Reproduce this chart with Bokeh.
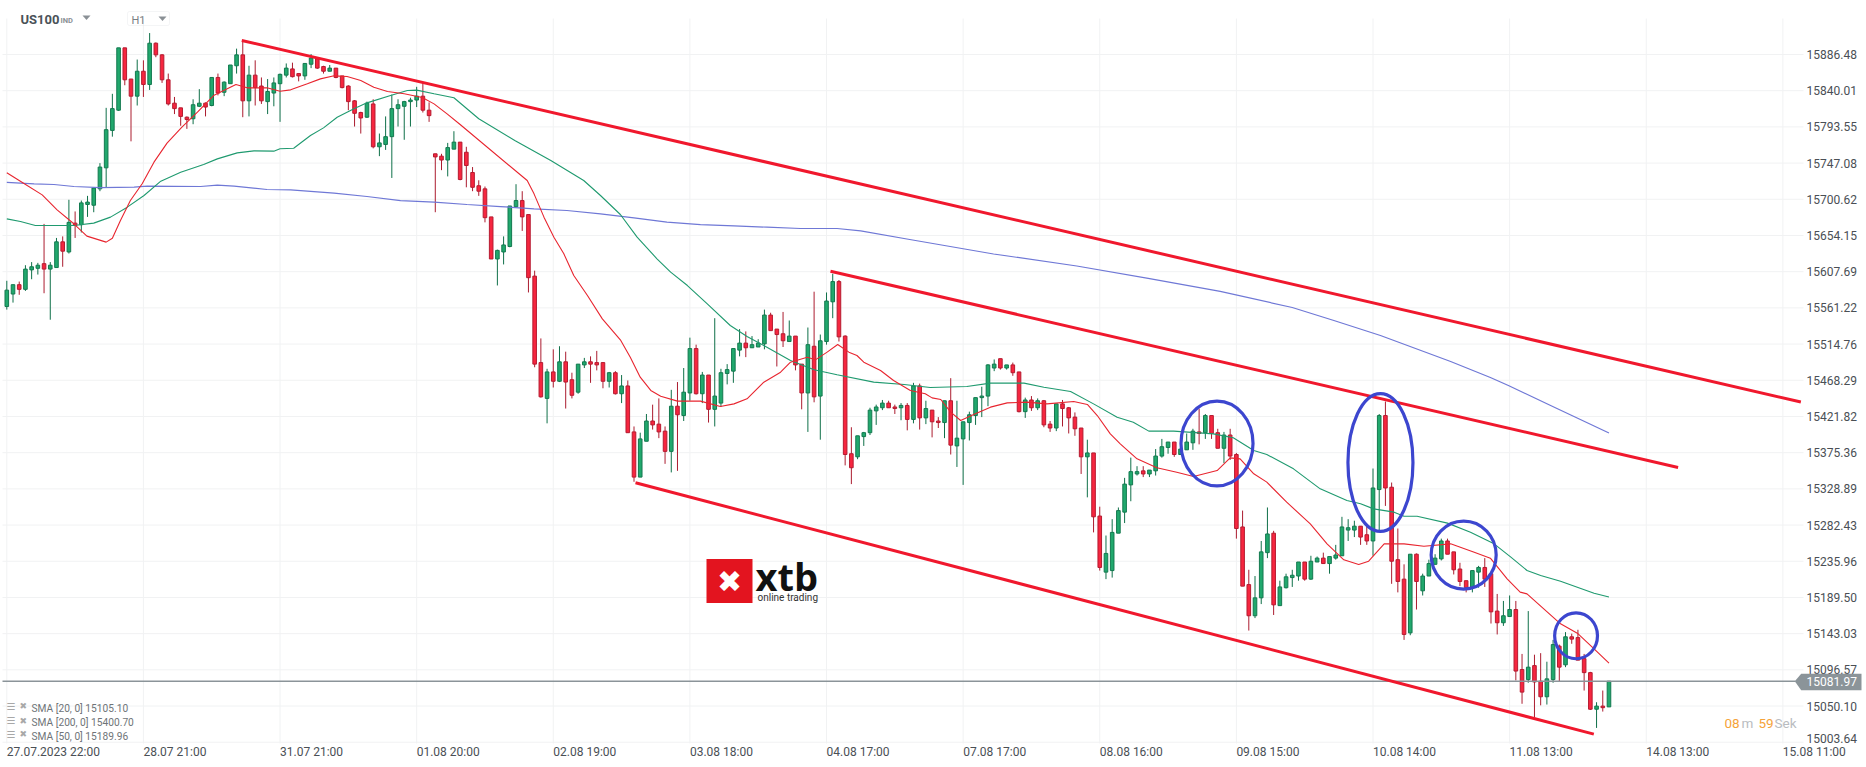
from bokeh.plotting import figure
from bokeh.embed import file_html
from bokeh.resources import INLINE
from bokeh.models import (BoxAnnotation, ColumnDataSource, FixedTicker, Label,
                          NumeralTickFormatter, Range1d)

opens = [
15563,15579,15591,15585,15610,15612,15618,15611,15613,15646,
15633,15670,15668,15694,15693,15714,15741,15789,15815,15895,
15855,15833,15865,15848,15901,15886,15854,15824,15818,15806,
15804,15820,15824,15821,15857,15838,15849,15872,15886,15827,
15860,15846,15826,15837,15849,15860,15868,15862,15859,15874,
15881,15871,15865,15869,15859,15846,15827,15812,15806,15823,
15768,15771,15781,15817,15820,15826,15828,15833,15815,15759,
15756,15751,15765,15774,15761,15735,15718,15714,15678,15624,
15633,15640,15691,15699,15681,15602,15491,15445,15479,15467,
15492,15469,15453,15488,15492,15491,15491,15467,15478,15451,
15461,15402,15344,15390,15416,15412,15403,15377,15435,15423,
15452,15509,15451,15475,15431,15439,15477,15480,15507,15516,
15510,15511,15515,15552,15534,15528,15518,15525,15489,15452,
15512,15448,15518,15569,15595,15525,15374,15370,15396,15401,
15429,15433,15439,15434,15433,15436,15418,15461,15420,15430,
15416,15414,15442,15384,15393,15414,15423,15446,15448,15484,
15496,15484,15488,15479,15428,15443,15433,15442,15412,15407,
15438,15433,15421,15407,15370,15375,15294,15222,15224,15272,
15299,15334,15348,15352,15348,15352,15371,15382,15389,15373,
15379,15388,15402,15401,15423,15401,15381,15398,15373,15280,
15206,15166,15189,15247,15272,15179,15202,15215,15217,15235,
15213,15235,15240,15233,15240,15243,15276,15276,15281,15270,
15262,15328,15423,15331,15238,15213,15144,15245,15198,15217,
15232,15239,15262,15248,15226,15211,15202,15222,15228,15220,
15172,15157,15165,15174,15097,15084,15102,15082,15062,15084,
15127,15103,15139,15138,15111,15093,15046,15050,15049]
highs = [
15596,15591,15595,15616,15620,15619,15669,15620,15651,15653,
15700,15685,15699,15705,15716,15747,15818,15836,15895,15895,
15855,15880,15879,15914,15902,15887,15862,15832,15818,15807,
15829,15842,15825,15857,15862,15852,15873,15894,15904,15872,
15879,15857,15855,15857,15862,15875,15876,15862,15875,15887,
15882,15872,15873,15869,15859,15847,15828,15813,15826,15829,
15785,15807,15835,15829,15827,15831,15845,15850,15825,15759,
15759,15773,15788,15774,15768,15742,15725,15717,15678,15636,
15653,15692,15720,15711,15681,15609,15522,15483,15508,15512,
15505,15478,15489,15497,15499,15506,15491,15479,15480,15475,
15468,15409,15401,15425,15437,15445,15409,15456,15466,15484,
15523,15514,15479,15475,15548,15483,15489,15509,15534,15531,
15525,15521,15559,15555,15534,15556,15545,15525,15489,15536,
15582,15527,15581,15605,15597,15526,15408,15397,15402,15433,
15437,15443,15442,15437,15439,15439,15465,15464,15442,15430,
15421,15442,15471,15442,15415,15428,15446,15460,15489,15495,
15496,15488,15491,15479,15446,15448,15445,15443,15416,15438,
15443,15434,15427,15407,15392,15375,15306,15269,15290,15305,
15343,15369,15358,15358,15353,15380,15393,15389,15389,15384,
15400,15406,15432,15425,15423,15406,15402,15406,15375,15301,
15225,15217,15262,15305,15275,15211,15220,15225,15235,15235,
15243,15242,15247,15242,15257,15293,15290,15288,15281,15281,
15355,15425,15441,15337,15278,15232,15245,15246,15220,15238,
15245,15265,15265,15248,15234,15211,15224,15230,15240,15220,
15194,15185,15192,15185,15117,15172,15116,15118,15107,15135,
15129,15145,15143,15148,15117,15094,15055,15070,15082]
lows = [
15559,15568,15578,15583,15598,15604,15580,15546,15613,15614,
15631,15651,15658,15678,15684,15711,15716,15781,15814,15847,
15775,15821,15832,15841,15883,15850,15821,15810,15795,15791,
15797,15819,15807,15820,15834,15833,15849,15862,15806,15807,
15821,15823,15810,15820,15800,15857,15857,15852,15854,15869,
15868,15862,15865,15856,15843,15815,15794,15785,15805,15766,
15756,15764,15728,15794,15777,15794,15819,15812,15800,15684,
15738,15730,15765,15725,15716,15711,15705,15671,15624,15590,
15617,15639,15691,15660,15581,15485,15446,15413,15459,15466,
15432,15445,15451,15484,15465,15481,15458,15459,15450,15439,
15401,15338,15344,15390,15405,15394,15361,15350,15352,15416,
15442,15450,15439,15414,15409,15434,15463,15465,15499,15498,
15510,15511,15508,15532,15486,15511,15518,15481,15431,15402,
15440,15392,15514,15548,15518,15359,15335,15367,15384,15398,
15411,15430,15433,15425,15417,15404,15413,15405,15412,15395,
15407,15394,15373,15357,15334,15391,15411,15421,15435,15480,
15482,15482,15474,15427,15420,15429,15430,15408,15402,15403,
15409,15400,15397,15348,15318,15273,15224,15213,15215,15272,
15285,15313,15346,15344,15344,15346,15369,15374,15370,15373,
15379,15379,15386,15393,15393,15381,15362,15366,15265,15204,
15147,15163,15181,15240,15167,15179,15201,15203,15211,15211,
15212,15235,15233,15220,15238,15243,15262,15267,15257,15257,
15243,15275,15307,15207,15196,15135,15141,15174,15192,15217,
15232,15237,15245,15219,15204,15196,15196,15202,15203,15156,
15142,15153,15165,15083,15053,15080,15036,15051,15052,15080,
15082,15100,15130,15109,15070,15045,15022,15043,15049]
closes = [
15584,15591,15585,15611,15614,15616,15611,15616,15646,15634,
15671,15667,15696,15697,15715,15742,15790,15817,15895,15854,
15833,15865,15848,15901,15886,15854,15823,15817,15807,15803,
15822,15824,15819,15857,15837,15851,15873,15886,15827,15860,
15844,15827,15839,15850,15861,15869,15858,15859,15875,15882,
15869,15865,15869,15857,15844,15826,15811,15805,15824,15768,
15773,15781,15817,15822,15826,15828,15833,15815,15808,15755,
15751,15767,15774,15726,15744,15716,15711,15677,15624,15635,
15642,15692,15699,15678,15600,15489,15447,15479,15467,15492,
15466,15449,15489,15492,15489,15488,15467,15478,15451,15461,
15401,15344,15393,15416,15411,15402,15377,15435,15424,15453,
15509,15451,15475,15431,15448,15478,15482,15509,15516,15510,
15514,15516,15552,15532,15527,15519,15525,15488,15452,15514,
15447,15519,15570,15595,15524,15373,15356,15397,15401,15430,
15434,15439,15433,15432,15436,15418,15461,15420,15432,15415,
15414,15442,15385,15394,15415,15424,15446,15448,15488,15489,
15484,15488,15478,15428,15443,15433,15442,15411,15407,15438,
15432,15420,15406,15370,15375,15293,15228,15246,15273,15301,
15335,15351,15351,15348,15353,15371,15383,15389,15373,15380,
15389,15403,15400,15423,15400,15381,15398,15371,15278,15204,
15166,15189,15248,15271,15180,15203,15216,15218,15235,15213,
15236,15240,15233,15242,15244,15280,15279,15281,15267,15262,
15330,15423,15330,15236,15210,15142,15245,15210,15217,15233,
15240,15262,15245,15225,15210,15202,15224,15228,15213,15171,
15157,15166,15174,15095,15068,15100,15081,15062,15085,15129,
15100,15139,15136,15109,15093,15046,15050,15048,15082]

sma20_x = [0,2.7,5.7,8.1,10.5,12.9,16,17,18.3,19.9,21.8,23.7,25.8,28.2,30.7,33.3,35.5,36.9,38.7,41.9,44,45.7,48.4,50.5,52.7,54.8,57,59.1,61.3,64,66.9,68.8,70.9,73,
           83.8,84.9,86.5,88.1,89.7,91.3,93.5,95.9,98.8,100.4,102,103.7,105.3,108,111.7,114.9,117.1,119.2,121.9,124.6,126.2,128.9,130.2,132.1,133.8,135.6,
           136.9,138,140.7,142.8,145.5,147.9,149,150.4,152,153.6,155.7,158.4,161.1,164.3,167.5,171.8,174,175.6,177.7,179.3,182,185.2,188.4,191.1,194.9,197,198.6,200.8,202.9,206.1,209.9,212.6,215.3,217.7,219.3,221.8,225,228.2,232.5,236.3,238.9,241.6,243.7,244.8,247.5,250.2,252.9,255.6,258]
sma20_y = [15734.6,15721.3,15706.3,15687.1,15671.2,15653.3,15645.6,15650.7,15673.4,15699,15720.5,15748.3,15772.7,15793.2,15812.5,15833.8,15842.4,15848,15843.7,15843.7,15839.4,15841.1,15848.8,15855.2,15859.1,15858.2,15853.1,15844.5,15839,15836,15831.3,15823.1,15810.3,15796.6,
           15724.7,15707.6,15677.7,15652,15630.6,15602.8,15577.1,15547.1,15520.2,15497.9,15472.3,15455.2,15447.9,15441.5,15441.5,15434.6,15438,15444.5,15465.8,15478.7,15491.5,15497.9,15494.5,15504.4,15514.2,15504.4,
           15500.1,15491.5,15480.8,15468,15455.2,15450.9,15445.7,15443.6,15427.3,15416.6,15424.4,15433.8,15439.3,15440.2,15438,15441,15437.2,15423,15399.5,15386.7,15367.4,15355.9,15350.3,15344.8,15352.4,15368.7,15367.4,15348.2,15337.5,15311.8,15284,15258.3,15237.8,15231.8,15236,15258.3,15258.3,15255.3,15258.3,15247.6,15239.9,15213.4,15196.3,15194.1,15174.9,15155.6,15143.6,15123.5,15105.1]

sma50_x = [0,2.2,4.6,10.8,14,16.7,19.4,22.1,24.8,28,31.7,33.9,37.1,39.8,43,44,46.2,48.9,51,53.2,55.9,58,61.8,64.5,66,68.8,72,76,81.8,87.6,
           92.9,95.6,98.8,101.5,104.7,106.9,109.6,112.8,116.5,119.2,121.9,126.2,130,133.7,139.6,144.5,148.7,154.6,158.4,163.8,167,171.3,175,178.8,
           181.4,183.9,187.9,194.3,197.5,200.8,202.9,207.2,211.5,215.8,218,220.1,223.4,225,227.1,232,235.7,239.5,242.2,244.8,247,250.2,255.6,258]
sma50_y = [15675.5,15672.1,15667,15667,15670,15677.7,15690.5,15705.5,15723.9,15735.4,15745.3,15752.5,15760.2,15762.8,15762.4,15765.4,15766.2,15782.5,15792.3,15806,15816.7,15824.4,15833.8,15840.3,15840.7,15836,15831,15804,15776,15750.4,
           15724.7,15705.5,15681.1,15652,15624.2,15607.1,15589.9,15566.4,15538.6,15524.5,15512.9,15493.7,15481.7,15475.3,15465.9,15462.9,15459,15460.3,15464.6,15464.6,15459.4,15453.9,15438,15420.9,
           15414.5,15403,15403,15399.5,15394.4,15378.1,15373,15354.6,15328.9,15313.9,15309.7,15303.2,15299,15293.8,15293.8,15284.9,15273.3,15258.3,15241.2,15224.1,15217.7,15210.4,15195,15189.96]

sma200_x = [0,4.4,7.6,10.8,15.1,20.5,22.6,31.2,33.9,36.6,41.9,45.7,52.7,58,63.4,68.8,74.1,79.5,84.9,90.2,95.6,101,106.3,111.7,117.1,122.4,127.8,133.7,137.5,
            145.4,158.9,172.3,183.8,195.4,207,213.7,221.2,232.5,238.9,241.8,248.6,258]
sma200_y = [15722.2,15720.5,15719.6,15717,15715.7,15716.2,15717.5,15717,15718.7,15717.5,15713.2,15712.8,15708.5,15704.2,15699,15696.9,15693.9,15691.3,15688.4,15686.2,15681.9,15676.8,15671.2,15668.2,15666.5,15664.8,15663.1,15663.1,15660.1,
            15649,15630.4,15615,15599,15582.3,15561.7,15545,15525.8,15492.4,15471.9,15461.6,15435.9,15400.7]

trend_x0 = [37.84, 132.64, 101.24]
trend_y0 = [15904.45, 15608.3, 15336.7]
trend_x1 = [288.9, 269.13, 255.56]
trend_y1 = [15440.3, 15356.3, 15014.0]

ell_x = [194.88, 221.2, 234.6, 252.7]
ell_y = [15387.1, 15362.7, 15243.9, 15140.3]
ell_w = [11.6, 10.47, 10.47, 6.9]
ell_h = [109, 177, 87.3, 59]

price_ticks = [15886.48,15840.01,15793.55,15747.08,15700.62,15654.15,15607.69,15561.22,15514.76,15468.29,
               15421.82,15375.36,15328.89,15282.43,15235.96,15189.50,15143.03,15096.57,15050.10,15003.64]
time_ticks = [0,22,44,66,88,110,132,154,176,198,220,242,264,286]
time_labels = ["27.07.2023  22:00","28.07  21:00","31.07  21:00","01.08  20:00","02.08  19:00","03.08  18:00",
               "04.08  17:00","07.08  17:00","08.08  16:00","09.08  15:00","10.08  14:00","11.08  13:00",
               "14.08  13:00","15.08  11:00"]
last_price = 15081.97
legend_rows = ["SMA [20,  0] 15105.10", "SMA [200,  0] 15400.70", "SMA [50,  0] 15189.96"]

STEP = 6.21
X0 = 6.3
PP = 1.2837
def dx(px): return (px - X0) / STEP
def dy(py): return 15886.48 - (py - 54) * PP

W, H = 1866, 767
GRID_L, GRID_R, GRID_T, GRID_B = 2, 1803, 18, 743

p = figure(width=W, height=H, output_backend="svg", toolbar_location=None,
           x_axis_location=None, y_axis_location="right",
           x_range=Range1d(dx(0), dx(W)), y_range=Range1d(dy(H), dy(0)),
           min_border_left=0, min_border_right=0, min_border_top=0, min_border_bottom=0)
p.outline_line_color = None
p.background_fill_color = "white"
p.border_fill_color = "white"
p.grid.visible = False

GRID = "#f1f2f3"
p.segment(time_ticks, [dy(GRID_T)] * len(time_ticks), time_ticks, [dy(GRID_B)] * len(time_ticks),
          line_color=GRID, line_width=1, level="underlay")
p.segment([dx(GRID_L)] * len(price_ticks), price_ticks, [dx(GRID_R)] * len(price_ticks), price_ticks,
          line_color=GRID, line_width=1, level="underlay")

ya = p.yaxis[0]
ya.ticker = FixedTicker(ticks=price_ticks[:-1])
ya.formatter = NumeralTickFormatter(format="0.00")
ya.axis_line_color = None
ya.major_tick_line_color = None
ya.minor_tick_line_color = None
ya.major_label_standoff = -66
ya.major_label_text_font = "Roboto"
ya.major_label_text_font_size = "12px"
ya.major_label_text_color = "#4a4f55"

idx = list(range(len(opens)))
up = [i for i in idx if closes[i] >= opens[i]]
dn = [i for i in idx if closes[i] < opens[i]]
for ids, fill, edge, wick in ((up, "#21a86d", "#13794f", "#0f7049"), (dn, "#f6263f", "#b51b30", "#ab1c2f")):
    src = ColumnDataSource(dict(x=ids, o=[opens[i] for i in ids], h=[highs[i] for i in ids],
                                l=[lows[i] for i in ids], c=[closes[i] for i in ids]))
    p.segment("x", "h", "x", "l", source=src, line_color=wick, line_width=1)
    p.vbar(x="x", width=0.58, bottom="o", top="c", source=src, fill_color=fill, line_color=edge, line_width=1)

p.line(sma200_x, sma200_y, line_color="#6f78d6", line_width=1.2)
p.line(sma50_x, sma50_y, line_color="#1f9a6f", line_width=1.1)
p.line(sma20_x, sma20_y, line_color="#e8252f", line_width=1.1)

p.segment([dx(GRID_L)], [last_price], [dx(1795)], [last_price], line_color="#8b9499", line_width=1.5)

p.segment(trend_x0, trend_y0, trend_x1, trend_y1, line_color="#f0182d", line_width=3)

p.ellipse(ell_x, ell_y, width=ell_w, height=ell_h, fill_color=None, line_color="#3c46cf", line_width=3.2, level="overlay")

def label(px, py, text, size, color, font="Roboto", style="normal", align="left"):
    p.add_layout(Label(x=dx(px), y=dy(py), text=text, text_font=font, text_font_size=f"{size}px",
                       text_font_style=style, text_color=color, text_align=align, text_baseline="middle"))

# x axis labels, left-aligned on their grid lines
for t, s in zip(time_ticks, time_labels):
    p.add_layout(Label(x=t, y=dy(751), text=s, text_font="Roboto", text_font_size="12px", text_color="#4a4f55",
                       text_align="left", text_baseline="middle"))

# lowest price label sits just above its grid line, as in the platform
label(1806, 738, f"{price_ticks[-1]:.2f}", 12, "#4a4f55")

# header
label(20, 19, "US100", 13, "#4a5258", style="bold")
label(60, 19.5, "IND", 7.5, "#8a9095", style="bold")
p.patch([dx(82), dx(90), dx(86)], [dy(15), dy(15), dy(19.5)], fill_color="#8a9095", line_color=None)
p.add_layout(BoxAnnotation(left=dx(127), right=dx(169), top=dy(11), bottom=dy(25), fill_alpha=0, line_color="#dcdfe1", line_width=1, border_radius=2))
label(131, 20, "H1", 11, "#7a8085")
p.patch([dx(158), dx(166), dx(162)], [dy(16), dy(16), dy(20.5)], fill_color="#8a9095", line_color=None)

# indicator legend
for row, py in zip(legend_rows, (707.7, 722, 735.7)):
    label(31, py, row, 10.2, "#6f7478")
    label(6, py - 2, "\u2630", 10, "#a8a8a8", font="DejaVu Sans")
    label(19, py - 2, "\u2716", 9, "#a8a8a8", font="DejaVu Sans")

# logo
p.add_layout(BoxAnnotation(left=dx(710 - 4), right=dx(756 - 4), top=dy(562 - 3.5), bottom=dy(606 - 3.5), fill_color="#e3141f", fill_alpha=1, line_color=None))
label(729, 580.5, "\u2716", 30, "white", font="DejaVu Sans", align="center")
label(755, 575, "xtb", 38, "#111111", font="Open Sans", style="bold")
label(757, 597, "online trading", 10, "#333333")

# last-price tag
p.patch([dx(1794.3), dx(1800.7), dx(1861), dx(1861), dx(1800.7)],
        [last_price, dy(673.3), dy(673.3), dy(689.7), dy(689.7)],
        fill_color="#8b9499", line_color=None, level="overlay")
p.add_layout(Label(x=dx(1806), y=last_price, text="15081.97", text_font="Roboto", text_font_size="12px",
                   text_color="white", text_align="left", text_baseline="middle", level="overlay"))

# countdown
label(1724, 722.7, "08", 13.5, "#f5a33a")
label(1741, 722.7, "m", 13.5, "#b9bcbf")
label(1758, 722.7, "59", 13.5, "#f5a33a")
label(1774, 722.7, "Sek", 13.5, "#b9bcbf")

open("out.html", "w").write(file_html(p, INLINE))
